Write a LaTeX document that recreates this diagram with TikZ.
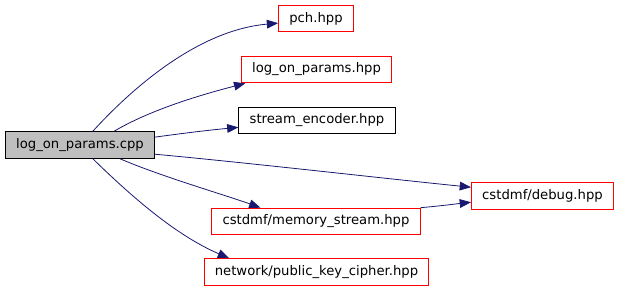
\documentclass[tikz,border=0pt]{standalone}
\usepackage{fontspec}
\setmainfont{DejaVu Sans}
\usetikzlibrary{arrows.meta}

\definecolor{edgeblue}{HTML}{191970}

\begin{document}
\begin{tikzpicture}[x=0.75pt,y=-0.75pt,
  file/.style={draw=red,line width=0.75pt,minimum height=20pt,inner xsep=8pt,inner ysep=0pt,
    font=\fontsize{9.9}{11}\selectfont},
  plain/.style={file,draw=black},
  main/.style={file,draw=black,fill=black!25},
  dep/.style={draw=edgeblue,line width=0.6pt,-{Triangle[length=8.5pt,width=6.5pt]}}]
\useasboundingbox (0,0) rectangle (624,290);

\node[main] (root) at (80,145) {log\_on\_params.cpp};
\node[file] (pch) at (316,18.5) {pch.hpp};
\node[file] (lop) at (316.5,69.5) {log\_on\_params.hpp};
\node[plain] (enc) at (317,120.5) {stream\_encoder.hpp};
\node[file] (dbg) at (542.5,196) {cstdmf/debug.hpp};
\node[file] (mem) at (316,221.5) {cstdmf/memory\_stream.hpp};
\node[file] (pkc) at (316.5,272) {network/public\_key\_cipher.hpp};

\draw[dep] (root.47) .. controls (135,85) and (200,30) .. (pch.187);
\draw[dep] (root.22) .. controls (150,110) and (200,95) .. (lop.191.5);
\draw[dep] (root.6) .. controls (185,133) and (210,130) .. (enc.185.5);
\draw[dep] (root.-7) .. controls (250,163) and (380,178) .. (dbg.173);
\draw[dep] (root.-19) .. controls (160,176) and (225,195) .. (mem.166);
\draw[dep] (root.-47) .. controls (130,195) and (175,235) .. (pkc.171.7);
\draw[dep] (mem.north east) .. controls (440,206) and (455,204) .. (dbg.185.7);
\end{tikzpicture}
\end{document}
